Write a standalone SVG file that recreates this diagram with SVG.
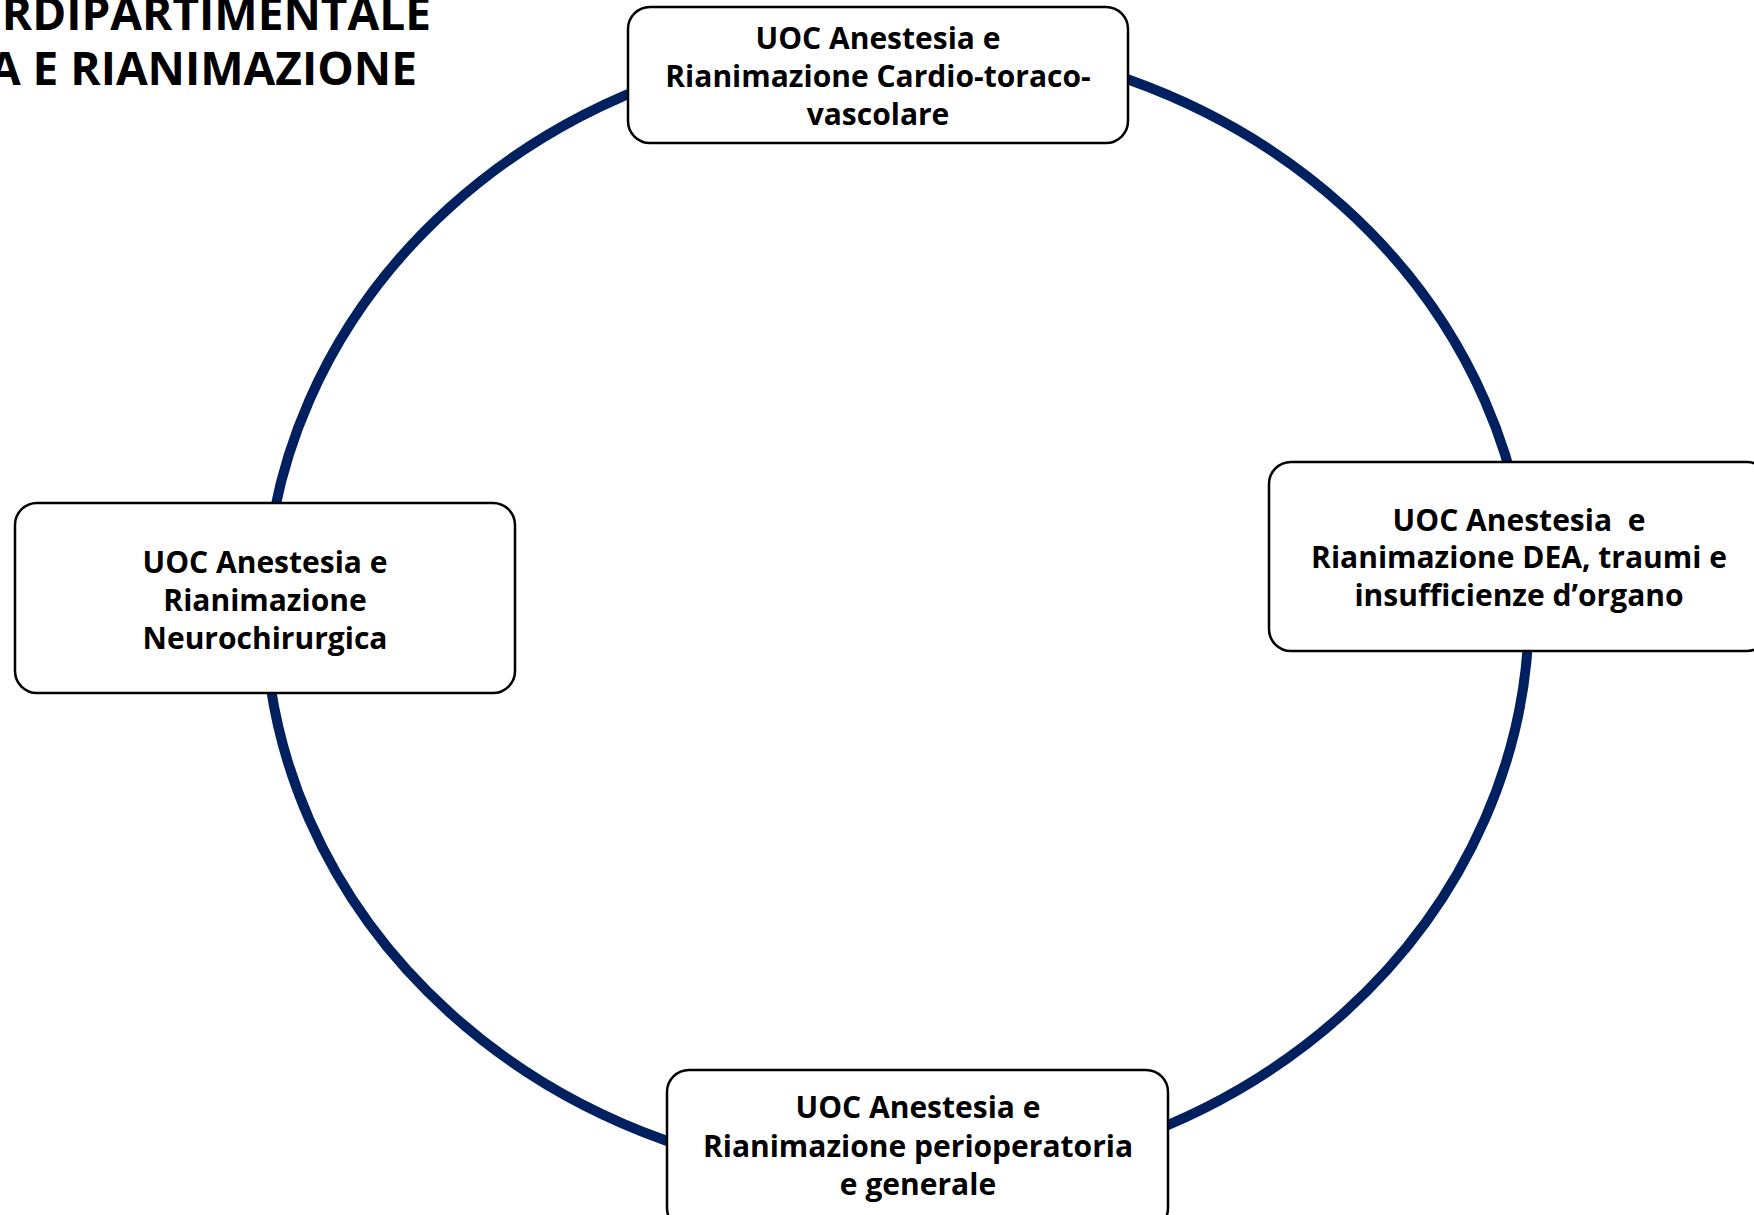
<svg xmlns="http://www.w3.org/2000/svg" width="1754" height="1215" viewBox="0 0 1754 1215">
<style>
.node rect { fill: #ffffff; stroke: #000000; stroke-width: 2.5; }
.node text { font-family: "Open Sans", "DejaVu Sans", sans-serif; font-weight: bold; font-size: 30px; fill: #000000; text-anchor: middle; }
.title { font-family: "Open Sans", "DejaVu Sans", sans-serif; font-weight: bold; font-size: 46px; fill: #000000; text-anchor: end; }
.ring { fill: none; stroke: #002060; stroke-width: 10; }
</style>
<rect x="0" y="0" width="1754" height="1215" fill="#ffffff"/>
<g id="title">
<text class="title" x="431" y="30">RDIPARTIMENTALE</text>
<text class="title" x="417" y="85">A E RIANIMAZIONE</text>
</g>
<g id="connectors">
<ellipse class="ring" cx="897" cy="610" rx="632" ry="570"/>
</g>
<g id="node-cardio" class="node">
<rect x="628" y="7" width="500" height="136" rx="22" ry="22"/>
<text x="878" y="49">UOC Anestesia e</text>
<text x="878" y="87">Rianimazione Cardio-toraco-</text>
<text x="878" y="125">vascolare</text>
</g>
<g id="node-dea" class="node">
<rect x="1269" y="462" width="500" height="189" rx="22" ry="22"/>
<text x="1519" y="531" xml:space="preserve">UOC Anestesia  e</text>
<text x="1519" y="568">Rianimazione DEA, traumi e</text>
<text x="1519" y="606">insufficienze d’organo</text>
</g>
<g id="node-neuro" class="node">
<rect x="15" y="503" width="500" height="190" rx="22" ry="22"/>
<text x="265" y="573">UOC Anestesia e</text>
<text x="265" y="611">Rianimazione</text>
<text x="265" y="649">Neurochirurgica</text>
</g>
<g id="node-periop" class="node">
<rect x="667" y="1070" width="501" height="160" rx="22" ry="22"/>
<text x="918" y="1118">UOC Anestesia e</text>
<text x="918" y="1157">Rianimazione perioperatoria</text>
<text x="918" y="1195">e generale</text>
</g>
</svg>
